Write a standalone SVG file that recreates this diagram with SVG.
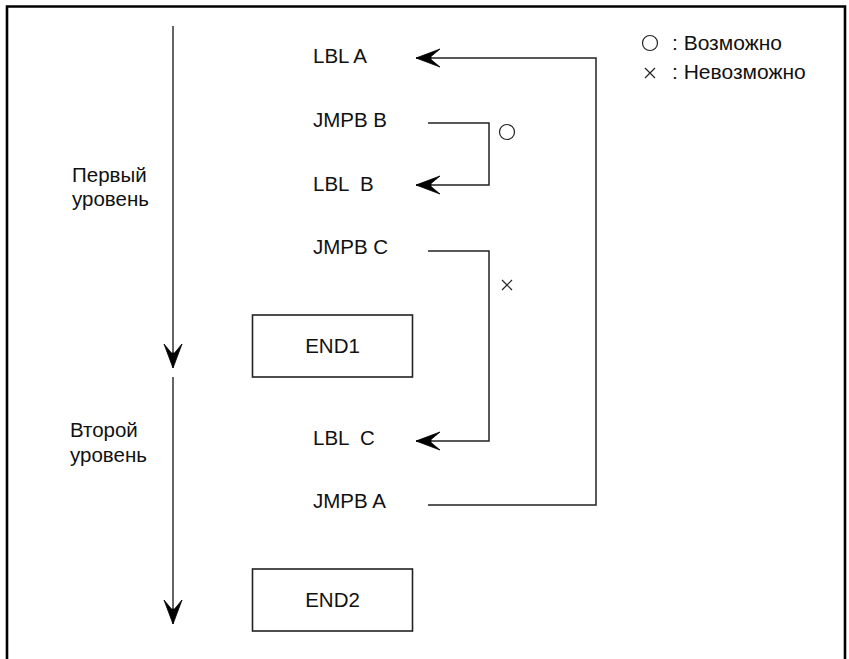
<svg xmlns="http://www.w3.org/2000/svg" width="849" height="659" viewBox="0 0 849 659">
<defs>
<style>
text{font-family:"Liberation Sans",Arial,sans-serif;fill:#111}
.t{font-size:20.5px}
.lg{font-size:21px}
.c{fill:none;stroke:#222;stroke-width:1.5}
.v{fill:none;stroke:#555;stroke-width:1.8}
.box{fill:#fff;stroke:#222;stroke-width:1.6}
</style>
<marker id="ah" markerUnits="userSpaceOnUse" viewBox="-26 -11 28 22" refX="0" refY="0" markerWidth="28" markerHeight="22" orient="auto">
<path d="M0,0 L-24,-9 L-15,-1.5 L-15,1.5 L-24,9 Z" fill="#000" stroke="#000" stroke-width="0.8" stroke-linejoin="round"/>
</marker>
</defs>
<rect x="0" y="0" width="849" height="659" fill="#fff"/>
<path d="M7,665 V6.5 H845 V665" fill="none" stroke="#000" stroke-width="2.6"/>

<g id="connectors">
<line class="v" x1="173" y1="26" x2="173" y2="368" marker-end="url(#ah)"/>
<line class="v" x1="173" y1="377" x2="173" y2="624" marker-end="url(#ah)"/>
<path class="c" d="M428,505 H596 V58 H416" marker-end="url(#ah)"/>
<path class="c" d="M428,123 H489 V185 H416" marker-end="url(#ah)"/>
<path class="c" d="M428,251 H489 V441 H416" marker-end="url(#ah)"/>
</g>

<g id="marks">
<circle cx="507" cy="132" r="7.5" fill="none" stroke="#222" stroke-width="1.2"/>
<path d="M502,280 L512,290 M512,280 L502,290" stroke="#222" stroke-width="1.2"/>
</g>

<g id="legend">
<circle cx="650" cy="43" r="7.5" fill="none" stroke="#222" stroke-width="1.2"/>
<text class="lg" x="672" y="50">: Возможно</text>
<path d="M645,68 L655,78 M655,68 L645,78" stroke="#222" stroke-width="1.2"/>
<text class="lg" x="672" y="79">: Невозможно</text>
</g>

<g id="level1">
<text class="t" x="72" y="182">Первый</text>
<text class="t" x="72" y="206">уровень</text>
</g>
<g id="level2">
<text class="t" x="70" y="437">Второй</text>
<text class="t" x="70" y="462">уровень</text>
</g>

<g id="lblA"><text class="t" x="313" y="63">LBL A</text></g>
<g id="jmpbB"><text class="t" x="313" y="127">JMPB B</text></g>
<g id="lblB"><text class="t" x="313" y="191" xml:space="preserve">LBL  B</text></g>
<g id="jmpbC"><text class="t" x="313" y="254">JMPB C</text></g>
<g id="end1">
<rect class="box" x="252.5" y="315" width="160" height="62"/>
<text class="t" x="332.5" y="353" text-anchor="middle">END1</text>
</g>
<g id="lblC"><text class="t" x="313" y="445" xml:space="preserve">LBL  C</text></g>
<g id="jmpbA"><text class="t" x="313" y="508">JMPB A</text></g>
<g id="end2">
<rect class="box" x="252.5" y="569" width="160" height="62"/>
<text class="t" x="332.5" y="607" text-anchor="middle">END2</text>
</g>
</svg>
